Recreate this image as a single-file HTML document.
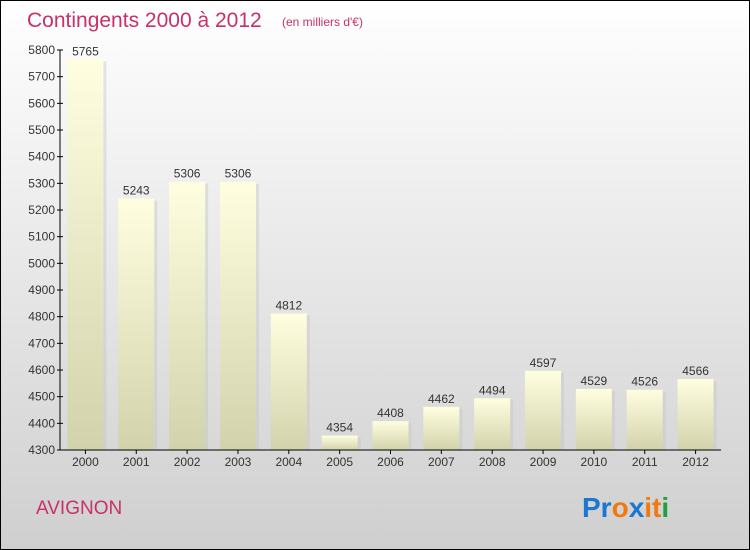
<!DOCTYPE html>
<html><head><meta charset="utf-8"><style>
body{margin:0;padding:0}
svg{display:block;font-family:"Liberation Sans",sans-serif}
</style></head><body>
<svg id="c" width="750" height="550" viewBox="0 0 750 550">
<defs>
<linearGradient id="bg" x1="0" y1="0" x2="0" y2="1"><stop offset="0" stop-color="#ffffff"/><stop offset="1" stop-color="#cfcfcf"/></linearGradient>
<linearGradient id="bar" x1="0" y1="0" x2="0" y2="1"><stop offset="0" stop-color="#ffffe0"/><stop offset="1" stop-color="#d2d2ac"/></linearGradient>
</defs>
<rect x="0.5" y="0.5" width="749" height="549" fill="url(#bg)" stroke="#000"/>
<text x="27" y="27" font-size="21" fill="#c8306a">Contingents 2000 à 2012</text>
<text x="282" y="26" font-size="12" fill="#c8306a">(en milliers d'€)</text>
<text x="36" y="514" font-size="19" fill="#c8306a">AVIGNON</text>
<g font-size="28" font-weight="bold" font-family="'Liberation Sans',sans-serif">
<text x="582" y="517"><tspan fill="#1a78d0">Pr</tspan><tspan fill="#f07a10">o</tspan><tspan fill="#1a78d0">x</tspan><tspan fill="#f07a10">i</tspan><tspan fill="#f07a10">t</tspan><tspan fill="#20a040">i</tspan></text>
</g>
<g id="plot"></g>
</svg>
<script>
const categories=["2000","2001","2002","2003","2004","2005","2006","2007","2008","2009","2010","2011","2012"];
const values=[5765,5243,5306,5306,4812,4354,4408,4462,4494,4597,4529,4526,4566];
const yTicks=[4300,4400,4500,4600,4700,4800,4900,5000,5100,5200,5300,5400,5500,5600,5700,5800];
const ns="http://www.w3.org/2000/svg";
const g=document.getElementById('plot');
const x0=60,x1=721,yMin=4300,yMax=5800,yTop=50,yBot=450;
const band=(x1-x0)/categories.length;
const y=v=>yBot-(v-yMin)/(yMax-yMin)*(yBot-yTop);
function mk(t,a){const e=document.createElementNS(ns,t);for(const k in a)e.setAttribute(k,a[k]);g.appendChild(e);return e;}
categories.forEach((c,i)=>{
 const cx=x0+band*(i+0.5),w=36,top=y(values[i]);
 const s=mk('rect',{x:cx-w/2+3,y:top+2,width:w,height:yBot-top-2,fill:'#c4c4c4',opacity:0.4});
 
 
 const r=mk('rect',{x:cx-w/2,y:top,width:w,height:yBot-top,fill:'url(#bar)'});
 
 
 const l=mk('text',{x:cx,y:top-4,'text-anchor':'middle','font-size':12,fill:'#333'});
 l.textContent=values[i];
 
 
 const t=mk('text',{x:cx,y:466,'text-anchor':'middle','font-size':12,fill:'#333'});
 t.textContent=c;
 
 
 const tk=mk('line',{x1:cx,x2:cx,y1:yBot,y2:yBot+4,stroke:'#000'});
 
 
});
yTicks.forEach(v=>{
 const ln=mk('line',{x1:x0-3,x2:x0+3,y1:y(v),y2:y(v),stroke:'#000'});
 
 
 const t=mk('text',{x:x0-5,y:y(v)+4,'text-anchor':'end','font-size':12,fill:'#333'});
 t.textContent=v;
 
 
});
const ya=mk('line',{x1:x0,x2:x0,y1:yTop,y2:yBot,stroke:'#000'});


const xa=mk('line',{x1:x0,x2:x1,y1:yBot,y2:yBot,stroke:'#000'});


</script>
</body></html>
